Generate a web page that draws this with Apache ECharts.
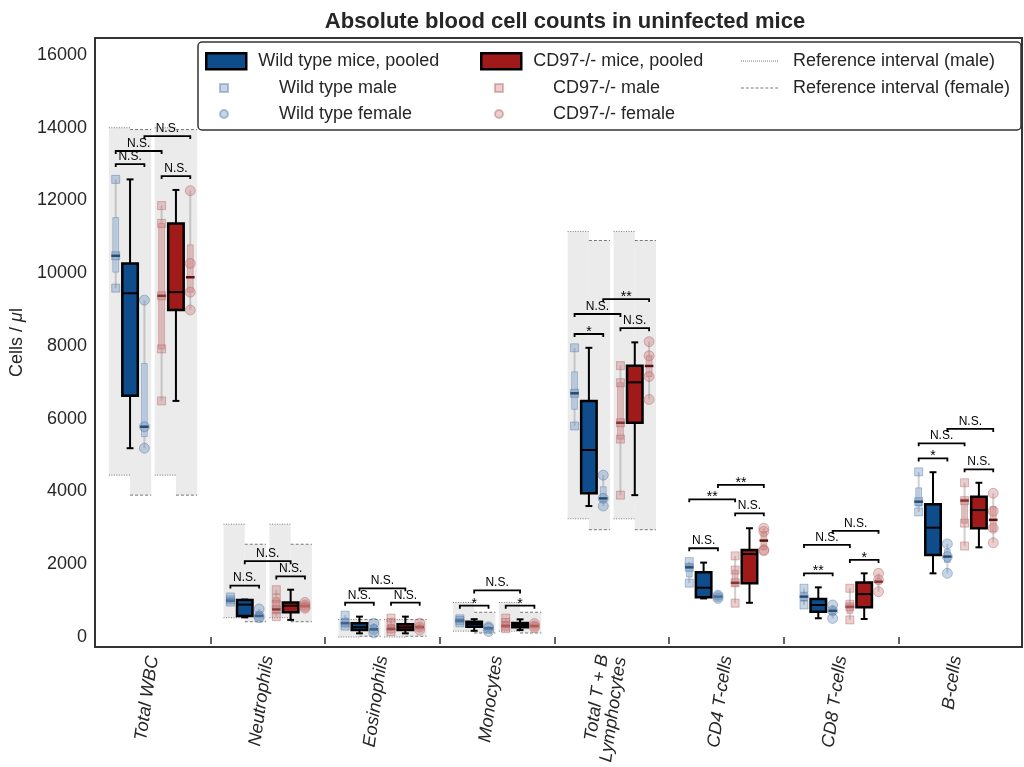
<!DOCTYPE html>
<html>
<head>
<meta charset="utf-8">
<title>Absolute blood cell counts</title>
<script src="https://cdn.jsdelivr.net/npm/echarts@6/dist/echarts.min.js"></script>
<style>
  html, body { margin: 0; padding: 0; background: #fff; }
  #chart { width: 1024px; height: 767px; }
</style>
</head>
<body>
<div id="chart"></div>
<script>
// categories and axis ticks
const categories = ['Total WBC', 'Neutrophils', 'Eosinophils', 'Monocytes',
  'Total T + B\nLymphocytes', 'CD4 T-cells', 'CD8 T-cells', 'B-cells']
const yTicks = [0, 2000, 4000, 6000, 8000, 10000, 12000, 14000, 16000]

// box summaries: [min, q1, median, q3, max]
const wtPooled = [
  [5190, 6630, 9450, 10270, 12580], [540, 580, 890, 1020, 1030], [100, 190, 270, 375, 560],
  [170, 280, 355, 420, 490], [3600, 3950, 5140, 6490, 7950], [1060, 1090, 1355, 1780, 2045],
  [515, 695, 880, 1045, 1365], [1750, 2255, 3005, 3650, 4530]
]
const koPooled = [
  [6490, 8990, 9480, 11370, 12290], [470, 680, 860, 950, 1300], [100, 190, 265, 350, 560],
  [190, 265, 330, 385, 485], [3900, 5890, 7000, 7460, 8100], [940, 1475, 2280, 2390, 2990],
  [495, 815, 1180, 1495, 1750], [2465, 2990, 3490, 3855, 4240]
]
const wtMale = [
  [9590, 10030, 10480, 11530, 12580], [940, 960, 1000, 1060, 1100], [280, 300, 380, 520, 600],
  [380, 420, 450, 480, 500], [5800, 6260, 6700, 7290, 7950], [1480, 1650, 1915, 2000, 2070],
  [880, 1000, 1110, 1200, 1340], [3440, 3600, 3720, 4100, 4540]
]
const wtFemale = [
  [5190, 5510, 5780, 7520, 9260], [530, 550, 580, 680, 770], [100, 180, 210, 320, 380],
  [150, 200, 240, 260, 280], [3600, 3720, 3810, 4130, 4450], [1040, 1070, 1110, 1130, 1150],
  [510, 620, 720, 800, 880], [1750, 2050, 2210, 2400, 2560]
]
const koMale = [
  [6490, 7920, 9380, 11370, 11860], [560, 680, 760, 1080, 1300], [150, 190, 220, 350, 520],
  [230, 260, 300, 420, 520], [3900, 5440, 5890, 6990, 7460], [930, 1400, 1490, 1840, 2230],
  [470, 650, 830, 900, 1340], [2500, 3130, 3750, 3800, 4240]
]
const koFemale = [
  [8990, 9480, 9890, 10780, 12270], [780, 820, 850, 900, 950], [150, 200, 270, 330, 380],
  [250, 280, 300, 340, 380], [6530, 7160, 7450, 7730, 8120], [2370, 2400, 2650, 2900, 2990],
  [1245, 1480, 1520, 1600, 1750], [2590, 2900, 3220, 3580, 3950]
]

// individual mice
const wtMalePts = [
  [12580, 10480, 9590], [1100, 1020, 960], [600, 380, 300], [500, 450, 390],
  [7950, 6700, 5800], [2070, 1915, 1480], [1340, 1110, 880], [4540, 3720, 3440]
]
const wtFemalePts = [
  [9260, 5780, 5190], [770, 580, 530], [380, 210, 110], [280, 240, 150],
  [4450, 3810, 3600], [1150, 1110, 1060], [880, 720, 510], [2560, 2210, 1750]
]
const koMalePts = [
  [11860, 11370, 9380, 7920, 6490], [1300, 1060, 900, 750, 560], [520, 400, 220, 150],
  [520, 400, 300, 230], [7460, 6990, 5890, 5440, 3900], [2230, 1840, 1490, 930],
  [1340, 900, 830, 470], [4240, 3750, 3130, 2500]
]
const koFemalePts = [
  [12270, 10270, 9480, 8990], [950, 880, 830, 790], [380, 270, 190], [370, 300, 260],
  [8120, 7730, 7160, 6530], [2990, 2900, 2400, 2370], [1750, 1570, 1245], [3950, 3460, 2990, 2590]
]

// reference intervals [low, high], only for first five panels
const refMale = [[4450, 14000], [530, 3100], [0, 480], [160, 950], [3250, 11150], null, null, null]
const refFemale = [[3900, 13950], [420, 2550], [20, 480], [110, 680], [2950, 10900], null, null, null]

// significance brackets: [category, from, to, level, label]
const brackets = [
  [0, 'wtM', 'wtF', 13000, 'N.S.'], [0, 'wtM', 'koM', 13360, 'N.S.'], [0, 'wtF', 'koF', 13770, 'N.S.'], [0, 'koM', 'koF', 12670, 'N.S.'],
  [1, 'wtM', 'wtF', 1415, 'N.S.'], [1, 'wtP', 'koP', 2085, 'N.S.'], [1, 'koM', 'koF', 1665, 'N.S.'],
  [2, 'wtM', 'wtF', 943, 'N.S.'], [2, 'wtP', 'koP', 1338, 'N.S.'], [2, 'koM', 'koF', 943, 'N.S.'],
  [3, 'wtM', 'wtF', 861, '*'], [3, 'wtP', 'koP', 1280, 'N.S.'], [3, 'koM', 'koF', 861, '*'],
  [4, 'wtM', 'wtF', 8330, '*'], [4, 'wtM', 'koM', 8880, 'N.S.'], [4, 'koM', 'koF', 8490, 'N.S.'], [4, 'wtF', 'koF', 9290, '**'],
  [5, 'wtM', 'wtF', 2440, 'N.S.'], [5, 'wtM', 'koM', 3785, '**'], [5, 'koM', 'koF', 3400, 'N.S.'], [5, 'wtF', 'koF', 4180, '**'],
  [6, 'wtM', 'wtF', 1750, '**'], [6, 'wtM', 'koM', 2530, 'N.S.'], [6, 'koM', 'koF', 2120, '*'], [6, 'wtF', 'koF', 2920, 'N.S.'],
  [7, 'wtM', 'wtF', 4910, '*'], [7, 'wtM', 'koM', 5325, 'N.S.'], [7, 'koM', 'koF', 4610, 'N.S.'], [7, 'wtF', 'koF', 5720, 'N.S.']
]

const FONT = '"Liberation Sans", Arial, sans-serif'
const TEXT = '#262626'
const WT_FILL = '#0f4c8c'
const KO_FILL = '#a11a1a'

// horizontal offsets inside a category
const POS = { wtM: -0.325, wtP: -0.2, wtF: -0.075, koM: 0.075, koP: 0.2, koF: 0.325 }

function rows(stats) {
  return stats.map((s, i) => [i].concat(s))
}

function pts(list, key) {
  const out = []
  list.forEach((vals, i) => vals.forEach(v => out.push([i + POS[key], v])))
  return out
}

function seg(x1, y1, x2, y2, stroke, width, dash) {
  return { type: 'line', shape: { x1, y1, x2, y2 }, style: { stroke, lineWidth: width, lineDash: dash || null } }
}

function pooledBox(key, fill) {
  return function (params, api) {
    const x = api.value(0) + POS[key]
    const w = api.size([0.135, 0])[0]
    const cap = api.size([0.06, 0])[0]
    const p = [1, 2, 3, 4, 5].map(d => api.coord([x, api.value(d)]))
    const cx = p[0][0]
    return {
      type: 'group',
      children: [
        seg(cx, p[0][1], cx, p[1][1], '#000', 2),
        seg(cx, p[3][1], cx, p[4][1], '#000', 2),
        seg(cx - cap / 2, p[0][1], cx + cap / 2, p[0][1], '#000', 2),
        seg(cx - cap / 2, p[4][1], cx + cap / 2, p[4][1], '#000', 2),
        { type: 'rect', shape: { x: cx - w / 2, y: p[3][1], width: w, height: p[1][1] - p[3][1] },
          style: { fill, stroke: '#000', lineWidth: 2.5 } },
        seg(cx - w / 2, p[2][1], cx + w / 2, p[2][1], '#000', 2)
      ]
    }
  }
}

function thinBox(key, fill, edge, mid) {
  return function (params, api) {
    const x = api.value(0) + POS[key]
    const w = api.size([0.05, 0])[0]
    const mw = api.size([0.075, 0])[0]
    const p = [1, 2, 3, 4, 5].map(d => api.coord([x, api.value(d)]))
    const cx = p[0][0]
    return {
      type: 'group',
      children: [
        seg(cx, p[0][1], cx, p[4][1], 'rgba(150,150,150,0.45)', 2),
        { type: 'rect', shape: { x: cx - w / 2, y: p[3][1], width: w, height: p[1][1] - p[3][1] },
          style: { fill, stroke: edge, lineWidth: 1 } },
        seg(cx - mw / 2, p[2][1], cx + mw / 2, p[2][1], mid, 2.5)
      ]
    }
  }
}

function refBand(male, dash) {
  return function (params, api) {
    const c = api.value(0)
    const children = []
    ;[-0.2, 0.2].forEach(g => {
      const x0 = male ? c + g - 0.185 : c + g
      const tl = api.coord([x0, api.value(2)])
      const br = api.coord([x0 + 0.185, api.value(1)])
      children.push({ type: 'rect', shape: { x: tl[0], y: tl[1], width: br[0] - tl[0], height: br[1] - tl[1] },
        style: { fill: '#ebebeb' } })
      children.push(seg(tl[0], tl[1], br[0], tl[1], '#777', 1, dash))
      children.push(seg(tl[0], br[1], br[0], br[1], '#777', 1, dash))
    })
    return { type: 'group', children }
  }
}

function bracketItem(params, api) {
  const b = brackets[params.dataIndex]
  const a = api.coord([b[0] + POS[b[1]], b[3]])
  const e = api.coord([b[0] + POS[b[2]], b[3]])
  const star = b[4].indexOf('*') === 0
  return {
    type: 'group',
    children: [
      { type: 'polyline', shape: { points: [[a[0], a[1] + 3], [a[0], a[1]], [e[0], e[1]], [e[0], e[1] + 3]] },
        style: { stroke: '#000', lineWidth: 1.8, fill: null } },
      { type: 'text', style: { text: b[4], x: (a[0] + e[0]) / 2, y: a[1] - (star ? 2 : 7.5),
        align: 'center', verticalAlign: 'middle', fontSize: star ? 14 : 12, fontFamily: FONT, fill: '#000' } }
    ]
  }
}

function refRows(list) {
  const out = []
  list.forEach((r, i) => { if (r) out.push([i, r[0], r[1]]) })
  return out
}

function dotPath(on, off, len) {
  let d = 'path://'
  for (let x = 0; x < len; x += on + off) d += 'M' + x + ',0h' + on + 'v1h-' + on + 'z'
  return d
}

const chart = echarts.init(document.getElementById('chart'))

const legendText = { fontSize: 18, color: TEXT, fontFamily: FONT }
function legendOpts(extra, pad) {
  return Object.assign({
    orient: 'vertical', padding: 0, itemGap: 8, selectedMode: false, z: 12,
    formatter: '{p|{name}}',
    textStyle: Object.assign({}, legendText, { rich: { p: { padding: [0, 0, 0, pad] } } })
  }, extra)
}

const wtScatter = { color: 'rgba(100,140,185,0.45)', borderColor: 'rgba(70,110,160,0.5)', borderWidth: 1 }
const koScatter = { color: 'rgba(205,120,120,0.45)', borderColor: 'rgba(170,90,90,0.5)', borderWidth: 1 }

const option = {
  animation: false,
  title: {
    text: 'Absolute blood cell counts in uninfected mice',
    left: 560, top: 6, textAlign: 'center',
    textStyle: { fontSize: 22, fontWeight: 'bold', color: TEXT, fontFamily: FONT }
  },
  grid: { left: 95, right: 2, top: 38, bottom: 120, outerBoundsMode: 'none',
    show: true, borderColor: '#333', borderWidth: 2 },
  xAxis: {
    type: 'value', min: -0.5056, max: 7.5757,
    axisLine: { show: false }, splitLine: { show: false },
    axisTick: { show: true, customValues: [0.5, 1.5, 2.5, 3.5, 4.5, 5.5, 6.5], length: 7,
      lineStyle: { color: '#333', width: 1.5 } },
    axisLabel: {
      customValues: [0, 1, 2, 3, 4, 5, 6, 7],
      formatter: v => categories[Math.round(v)],
      rotate: 82, margin: 9, padding: [0, 0, 12, 0],
      fontSize: 18, fontStyle: 'italic', color: TEXT, fontFamily: FONT
    }
  },
  yAxis: {
    type: 'value', min: -275, max: 16467,
    axisLine: { show: false }, axisTick: { show: false }, splitLine: { show: false },
    axisLabel: { customValues: yTicks, formatter: v => String(v), fontSize: 18, color: TEXT, fontFamily: FONT, margin: 8 },
    name: 'Cells / {it|μ}l', nameLocation: 'middle', nameRotate: 90, nameGap: 68,
    nameTextStyle: { fontSize: 18, color: TEXT, fontFamily: FONT, rich: { it: { fontStyle: 'italic', fontSize: 18 } } }
  },
  legend: [
    legendOpts({ left: 205, top: 52, itemWidth: 40, itemHeight: 16,
      data: [{ name: 'Wild type mice, pooled', icon: 'rect', itemStyle: { color: WT_FILL, borderColor: '#000', borderWidth: 2.5 } }] }, 7),
    legendOpts({ left: 219, top: 79, itemWidth: 8, itemHeight: 8,
      data: [{ name: 'Wild type male', icon: 'rect' }, { name: 'Wild type female', icon: 'circle' }] }, 46),
    legendOpts({ left: 480, top: 52, itemWidth: 40, itemHeight: 16,
      data: [{ name: 'CD97-/- mice, pooled', icon: 'rect', itemStyle: { color: KO_FILL, borderColor: '#000', borderWidth: 2.5 } }] }, 7),
    legendOpts({ left: 494, top: 79, itemWidth: 8, itemHeight: 8,
      data: [{ name: 'CD97-/- male', icon: 'rect' }, { name: 'CD97-/- female', icon: 'circle' }] }, 45),
    legendOpts({ left: 741, top: 52, itemWidth: 37, itemHeight: 1, itemGap: 9,
      data: [
        { name: 'Reference interval (male)', icon: dotPath(1, 1, 37), itemStyle: { color: '#777' } },
        { name: 'Reference interval (female)', icon: dotPath(3, 2, 37), itemStyle: { color: '#777' } }
      ] }, 10)
  ],
  graphic: {
    elements: [{
      type: 'rect', z: 10, shape: { x: 198, y: 42, width: 823, height: 88, r: 4 },
      style: { fill: 'rgba(255,255,255,0.85)', stroke: '#333', lineWidth: 1.5 }
    }]
  },
  series: [
    { name: 'Reference interval (male)', type: 'custom', z: 1, renderItem: refBand(true, [1, 1.5]),
      encode: { x: 0, y: [1, 2] }, data: refRows(refMale), itemStyle: { color: '#777' } },
    { name: 'Reference interval (female)', type: 'custom', z: 1, renderItem: refBand(false, [3, 2]),
      encode: { x: 0, y: [1, 2] }, data: refRows(refFemale), itemStyle: { color: '#777' } },
    { type: 'custom', z: 2, renderItem: thinBox('wtM', 'rgba(176,196,222,0.75)', 'rgba(120,150,185,0.6)', '#0b2540'),
      encode: { x: 0, y: [1, 2, 3, 4, 5] }, data: rows(wtMale) },
    { type: 'custom', z: 2, renderItem: thinBox('wtF', 'rgba(176,196,222,0.75)', 'rgba(120,150,185,0.6)', '#0b2540'),
      encode: { x: 0, y: [1, 2, 3, 4, 5] }, data: rows(wtFemale) },
    { type: 'custom', z: 2, renderItem: thinBox('koM', 'rgba(222,176,176,0.75)', 'rgba(190,130,130,0.6)', '#5a1212'),
      encode: { x: 0, y: [1, 2, 3, 4, 5] }, data: rows(koMale) },
    { type: 'custom', z: 2, renderItem: thinBox('koF', 'rgba(222,176,176,0.75)', 'rgba(190,130,130,0.6)', '#5a1212'),
      encode: { x: 0, y: [1, 2, 3, 4, 5] }, data: rows(koFemale) },
    { name: 'Wild type mice, pooled', type: 'custom', z: 3, renderItem: pooledBox('wtP', WT_FILL),
      encode: { x: 0, y: [1, 2, 3, 4, 5] }, data: rows(wtPooled), itemStyle: { color: WT_FILL } },
    { name: 'CD97-/- mice, pooled', type: 'custom', z: 3, renderItem: pooledBox('koP', KO_FILL),
      encode: { x: 0, y: [1, 2, 3, 4, 5] }, data: rows(koPooled), itemStyle: { color: KO_FILL } },
    { name: 'Wild type male', type: 'scatter', z: 4, symbol: 'rect', symbolSize: 8, itemStyle: wtScatter, data: pts(wtMalePts, 'wtM') },
    { name: 'Wild type female', type: 'scatter', z: 4, symbol: 'circle', symbolSize: 10, itemStyle: wtScatter, data: pts(wtFemalePts, 'wtF') },
    { name: 'CD97-/- male', type: 'scatter', z: 4, symbol: 'rect', symbolSize: 8, itemStyle: koScatter, data: pts(koMalePts, 'koM') },
    { name: 'CD97-/- female', type: 'scatter', z: 4, symbol: 'circle', symbolSize: 10, itemStyle: koScatter, data: pts(koFemalePts, 'koF') },
    { type: 'custom', z: 5, renderItem: bracketItem, encode: { x: 0, y: 1 },
      data: brackets.map(b => [b[0] + POS[b[1]], b[3]]) }
  ]
}

chart.setOption(option)
</script>
</body>
</html>
